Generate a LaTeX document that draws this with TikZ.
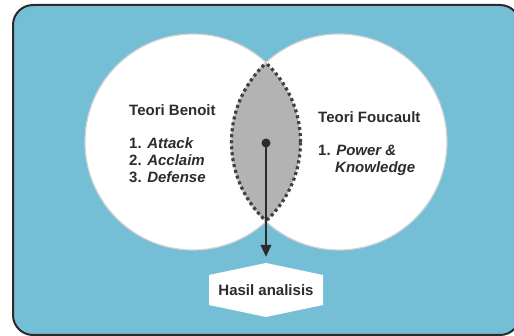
\documentclass[tikz,border=0pt]{standalone}
\usepackage{fontspec}
\setmainfont{Liberation Sans}
\usetikzlibrary{arrows.meta,calc}
\definecolor{bgblue}{HTML}{74BED6}
\definecolor{framecol}{HTML}{2E2A2B}
\definecolor{circborder}{HTML}{D2D2D2}
\definecolor{lensgray}{HTML}{B3B3B3}
\definecolor{dotcol}{HTML}{404040}
\definecolor{txt}{HTML}{2F2B2C}
\tikzset{
  frame/.style={draw=framecol, line width=2pt, fill=bgblue, rounded corners=20pt},
  circ/.style={circle, draw=circborder, line width=1.2pt, fill=white, minimum size=216pt, inner sep=0pt},
  lensline/.style={draw=dotcol, line width=3.2pt, dash pattern=on 3pt off 3pt},
  lbl/.style={anchor=base west, inner sep=0pt, text=txt, font=\fontsize{15}{17}\selectfont\bfseries},
  hexnode/.style={inner sep=0pt, minimum width=114pt, minimum height=54pt, text height=10.8pt, text depth=0pt, text=txt, font=\fontsize{15}{17}\selectfont\bfseries},
  hexfill/.style={fill=white},
  dotnode/.style={circle, fill=framecol, minimum size=9pt, inner sep=0pt},
  arr/.style={draw=framecol, line width=2.2pt, -{Triangle[length=12pt,width=10.5pt]}}
}
\begin{document}
\begin{tikzpicture}[x=1pt,y=-1pt]
\useasboundingbox (0,0) rectangle (514,336);
\begin{scope}
  \clip (0,0) rectangle (514,336);
  \path[frame] (13,5) rectangle (520,335);
\end{scope}
% circles
\node[circ] (benoit) at (193,142) {};
\node[circ] (foucault) at (339,142) {};
% lens
\begin{scope}
  \clip (193,142) circle (107.4pt);
  \fill[lensgray] (339,142) circle (107.4pt);
\end{scope}
\begin{scope}
  \clip (193,142) circle (107.5pt);
  \draw[lensline] (339,142) circle (107.5pt);
\end{scope}
\begin{scope}
  \clip (339,142) circle (107.5pt);
  \draw[lensline] (193,142) circle (107.5pt);
\end{scope}
% texts left
\node[lbl] (bt) at (129,115.5) {Teori Benoit};
\node[lbl] (b1) at (129,148.5) {1. \textit{Attack}};
\node[lbl] (b2) at (129,165.5) {2. \textit{Acclaim}};
\node[lbl] (b3) at (129,182.5) {3. \textit{Defense}};
% texts right
\node[lbl] (ft) at (318,122.5) {Teori Foucault};
\node[lbl] (f1) at (318,155.5) {1. \textit{Power \&}};
\node[lbl] (f2) at (335,172.5) {\textit{Knowledge}};
% result
\coordinate (hc) at (266,290);
\fill[hexfill] ($(hc)+(0,-27)$) -- ($(hc)+(57,-15)$) -- ($(hc)+(57,15)$)
  -- ($(hc)+(0,27)$) -- ($(hc)+(-57,15)$) -- ($(hc)+(-57,-15)$) -- cycle;
\node[hexnode] (hasil) at (hc) {Hasil analisis};
% arrow
\node[dotnode] (dot) at (266,143) {};
\draw[arr, shorten >=6pt] (dot.center) -- (hasil.north);
\end{tikzpicture}
\end{document}
